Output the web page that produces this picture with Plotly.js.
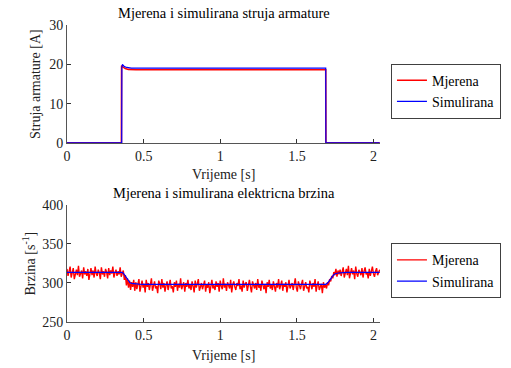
<!DOCTYPE html>
<html><head><meta charset="utf-8">
<script src="https://cdn.plot.ly/plotly-3.0.1.min.js"></script>
<style>html,body{margin:0;padding:0;background:#fff}#c{width:511px;height:368px}
#c svg text{font-family:"Liberation Serif","Times New Roman",serif !important;}</style>
</head><body><div id="c"></div>
<script>
// Current (top)
const curMeasT = [0, 0.355, 0.356, 0.36, 0.365, 0.38, 0.40, 0.45, 0.8, 1.2, 1.688, 1.689, 2.04];
const curMeasV = [0, 0, 19.5, 19.6, 19.3, 18.9, 18.7, 18.6, 18.65, 18.6, 18.6, 0, 0];
const curSimT = [0, 0.357, 0.358, 0.362, 0.367, 0.375, 0.39, 0.42, 1.688, 1.689, 2.04];
const curSimV = [0, 0, 19.2, 20.0, 19.7, 19.4, 19.2, 19.05, 19.05, 0, 0];

// Speed (bottom) measured, sampled uniformly from 0 to 2.04 s
const spdStart = 0, spdEnd = 2.04;
const spdMeasV = [
318,309,315,321,307,312,319,305,314,317,310,322,308,313,316,306,320,311,315,309,
318,304,314,319,310,316,307,321,312,309,317,313,305,320,311,315,308,318,314,306,
319,310,316,312,321,307,313,317,309,315,311,320,308,314,
316,304,310,297,306,294,303,291,301,295,304,290,
301,292,298,305,289,296,303,294,299,288,304,295,300,291,297,306,290,298,302,293,
296,287,303,299,292,305,294,300,289,297,302,291,298,304,293,296,288,301,295,303,
290,299,294,306,292,297,301,289,300,295,304,293,298,291,302,296,288,303,294,299,
305,290,297,300,292,296,303,289,298,294,301,287,299,304,293,297,291,302,295,300,
289,303,296,292,306,294,299,290,301,297,293,304,288,298,302,295,291,300,296,305,
292,297,289,303,294,299,301,290,296,304,295,288,302,297,293,300,291,305,294,298,
290,303,296,292,299,287,301,295,304,293,298,291,302,296,289,300,294,305,292,297,
303,290,299,295,301,288,297,304,293,296,300,291,298,306,294,289,302,296,292,299,
304,290,297,301,293,295,288,303,298,292,300,295,305,289,297,302,291,296,299,287,
301,294,298,
293,301,297,305,302,309,306,314,310,318,308,316,311,
317,309,315,320,307,313,318,310,322,306,314,319,311,316,305,321,312,308,317,314,
310,319,307,315,320,311,313,306,318,309,316,321,312,308,315,319,310,314,317
];
const spdMeasT = spdMeasV.map((_, i) => spdStart + (spdEnd - spdStart) * i / (spdMeasV.length - 1));
const spdSimT = [0, 0.36, 0.37, 0.38, 0.39, 0.40, 0.41, 0.42, 0.44, 0.47, 0.5, 1.688, 1.70, 1.71, 1.72, 1.73, 1.74, 1.75, 1.77, 1.80, 1.83, 2.04];
const spdSimV = [313.5, 313.5, 312, 309, 305.5, 302.5, 300.5, 299.5, 298.8, 298.5, 298.3, 298.3, 300, 303, 306, 308.5, 310.5, 311.8, 312.8, 313.3, 313.5, 313.5];

const xTickVals = [0, 0.5, 1, 1.5, 2];
const xTickText = ['0', '0.5', '1', '1.5', '2'];
const yTickVals1 = [0, 10, 20, 30];
const yTickVals2 = [250, 300, 350, 400];
const seriesNames = ['Mjerena', 'Simulirana'];
const titles = ['Mjerena i simulirana struja armature', 'Mjerena i simulirana elektricna brzina'];
const xTitle = 'Vrijeme [s]';
const yTitles = ['Struja armature [A]', 'Brzina [s<sup>-1</sup>]'];

const font = 'Liberation Serif';
const traces = [
  {x: curMeasT, y: curMeasV, name: seriesNames[0], mode: 'lines', line: {color: '#ff0000', width: 1.6}, xaxis: 'x', yaxis: 'y', legend: 'legend'},
  {x: curSimT, y: curSimV, name: seriesNames[1], mode: 'lines', line: {color: '#0000ff', width: 1.2}, xaxis: 'x', yaxis: 'y', legend: 'legend'},
  {x: spdMeasT, y: spdMeasV, name: seriesNames[0], mode: 'lines', line: {color: '#ff0000', width: 1.4}, xaxis: 'x2', yaxis: 'y2', legend: 'legend2'},
  {x: spdSimT, y: spdSimV, name: seriesNames[1], mode: 'lines', line: {color: '#0000ff', width: 1.2}, xaxis: 'x2', yaxis: 'y2', legend: 'legend2'}
];
const ax = {
  showgrid: false, zeroline: false, showline: true, linecolor: '#555', linewidth: 1,
  ticks: 'inside', ticklen: 4, tickcolor: '#333', tickfont: {family: font, size: 14, color: '#222'},
  mirror: false, automargin: false
};
const legendBase = {
  font: {family: font, size: 14, color: '#000'}, bordercolor: '#404040', borderwidth: 1,
  bgcolor: '#fff', xanchor: 'left', yanchor: 'top', tracegroupgap: 0, itemwidth: 30
};
const ann = (text, xref, yref, x, y, xs, ys, xa, ya, extra) => Object.assign({
  text: text, xref: xref, yref: yref, x: x, y: y, xshift: xs, yshift: ys, xanchor: xa, yanchor: ya,
  showarrow: false, font: {family: font, size: 14, color: '#222'}
}, extra || {});
const layout = {
  width: 511, height: 368,
  margin: {l: 67, r: 131, t: 25, b: 46, autoexpand: false},
  paper_bgcolor: '#fff', plot_bgcolor: '#fff',
  font: {family: font, size: 14, color: '#222'},
  xaxis: Object.assign({}, ax, {domain: [0, 1], range: [0, 2.042], tickvals: xTickVals, ticktext: xTickText, anchor: 'y'}),
  yaxis: Object.assign({}, ax, {domain: [0.603, 1], range: [0, 30], tickvals: yTickVals1, anchor: 'x'}),
  xaxis2: Object.assign({}, ax, {domain: [0, 1], range: [0, 2.042], tickvals: xTickVals, ticktext: xTickText, anchor: 'y2'}),
  yaxis2: Object.assign({}, ax, {domain: [0, 0.394], range: [250, 400], tickvals: yTickVals2, anchor: 'x2'}),
  legend: Object.assign({}, legendBase, {x: 1.035, y: 0.87}),
  legend2: Object.assign({}, legendBase, {x: 1.035, y: 0.265}),
  annotations: [
    ann(titles[0], 'x domain', 'y domain', 0.5, 1, 0, 2, 'center', 'bottom', {font: {family: font, size: 14.5, color: '#000'}}),
    ann(titles[1], 'x2 domain', 'y2 domain', 0.5, 1, 0, 2, 'center', 'bottom', {font: {family: font, size: 14.5, color: '#000'}}),
    ann(xTitle, 'x domain', 'y domain', 0.5, 0, 0, -32, 'center', 'middle'),
    ann(xTitle, 'x2 domain', 'y2 domain', 0.5, 0, 0, -33, 'center', 'middle'),
    ann(yTitles[0], 'x domain', 'y domain', 0, 0.5, -31, 0, 'center', 'middle', {textangle: -90}),
    ann(yTitles[1], 'x2 domain', 'y2 domain', 0, 0.5, -37, 0, 'center', 'middle', {textangle: -90})
  ],
  showlegend: true
};
Plotly.newPlot('c', traces, layout, {staticPlot: true, displayModeBar: false});
</script></body></html>
